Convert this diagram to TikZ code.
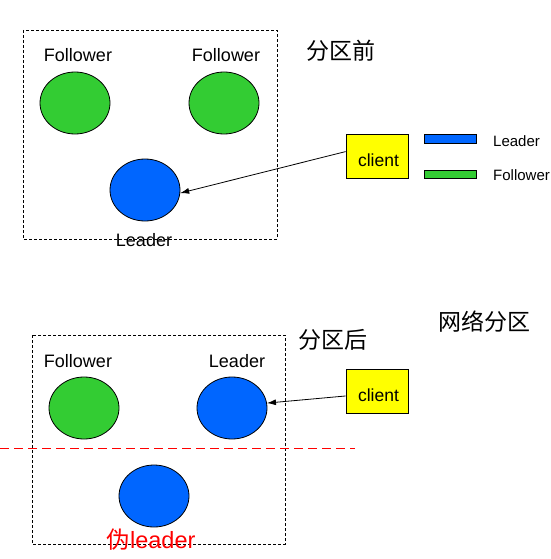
\documentclass[tikz,border=0pt]{standalone}
\usepackage{fontspec}
\setmainfont{Liberation Sans}
\newfontfamily\cjk{Noto Sans CJK SC}
\usetikzlibrary{shapes.geometric,arrows.meta}
\definecolor{fgreen}{HTML}{33CC33}
\definecolor{lblue}{HTML}{0066FF}
\definecolor{cyel}{HTML}{FFFF00}
\tikzset{
  follower/.style={ellipse,draw=black,fill=fgreen,minimum width=70pt,minimum height=62pt,inner sep=0pt,line width=0.8pt},
  leaderell/.style={ellipse,draw=black,fill=lblue,minimum width=70pt,minimum height=62pt,inner sep=0pt,line width=0.8pt},
  clientbox/.style={rectangle,draw=black,fill=cyel,minimum width=62pt,minimum height=44pt,inner sep=0pt,line width=0.8pt,text height=21pt,text depth=0pt,font=\fontsize{17.5}{19}\selectfont},
  lbl/.style={inner sep=0pt,font=\fontsize{18}{20}\selectfont},
  leglbl/.style={inner sep=0pt,font=\fontsize{15}{17}\selectfont},
  cjklbl/.style={inner sep=0pt,font=\cjk\fontsize{23}{26}\selectfont},
  groupbox/.style={draw=black,dash pattern=on 3pt off 2pt,line width=0.8pt},
  conn/.style={draw=black,line width=0.8pt,-{Latex[length=9pt,width=6pt]}}
}
\begin{document}
\begin{tikzpicture}[x=1pt,y=-1pt]
\useasboundingbox (0,0) rectangle (550,559);
% top group
\draw[groupbox] (23,30) rectangle (277,239);
\node[lbl] (tf1) at (78,55) {Follower};
\node[lbl] (tf2) at (226,55) {Follower};
\node[follower] (f1) at (75,103) {};
\node[follower] (f2) at (224,103) {};
\node[leaderell] (l1) at (145,190) {};
\node[lbl] (tl1) at (144,240) {Leader};
\node[cjklbl] (t1) at (341,51) {分区前};
\node[clientbox] (c1) at (377,156) {\,client};
\draw[conn] (c1.172) -- (l1.-5);
% legend
\node[rectangle,draw=black,fill=lblue,minimum width=52pt,minimum height=9pt,inner sep=0pt] (lgb) at (450,138.5) {};
\node[leglbl,anchor=west] (lgbt) at (493,141) {Leader};
\node[rectangle,draw=black,fill=fgreen,minimum width=52pt,minimum height=8pt,inner sep=0pt] (lgg) at (450,174) {};
\node[leglbl,anchor=west] (lggt) at (493,175) {Follower};
% bottom group
\draw[groupbox] (32,335) rectangle (285,544);
\node[lbl] (bf1) at (78,361) {Follower};
\node[lbl] (bl2t) at (237,361) {Leader};
\node[follower] (f3) at (84,408) {};
\node[leaderell] (l2) at (232,408) {};
\node[leaderell] (l3) at (154,496) {};
\node[inner sep=0pt,text=red,font=\fontsize{23.5}{26}\selectfont] (fake) at (151,540) {{\cjk 伪}leader};
\draw[red,dash pattern=on 9pt off 5pt,line width=0.8pt] (0,448) -- (355,448);
\node[cjklbl] (t2) at (333,340) {分区后};
\node[cjklbl] (t3) at (484,322) {网络分区};
\node[clientbox] (c2) at (377,391) {\,client};
\draw[conn] (c2.189) -- (l2.8);
\end{tikzpicture}
\end{document}
